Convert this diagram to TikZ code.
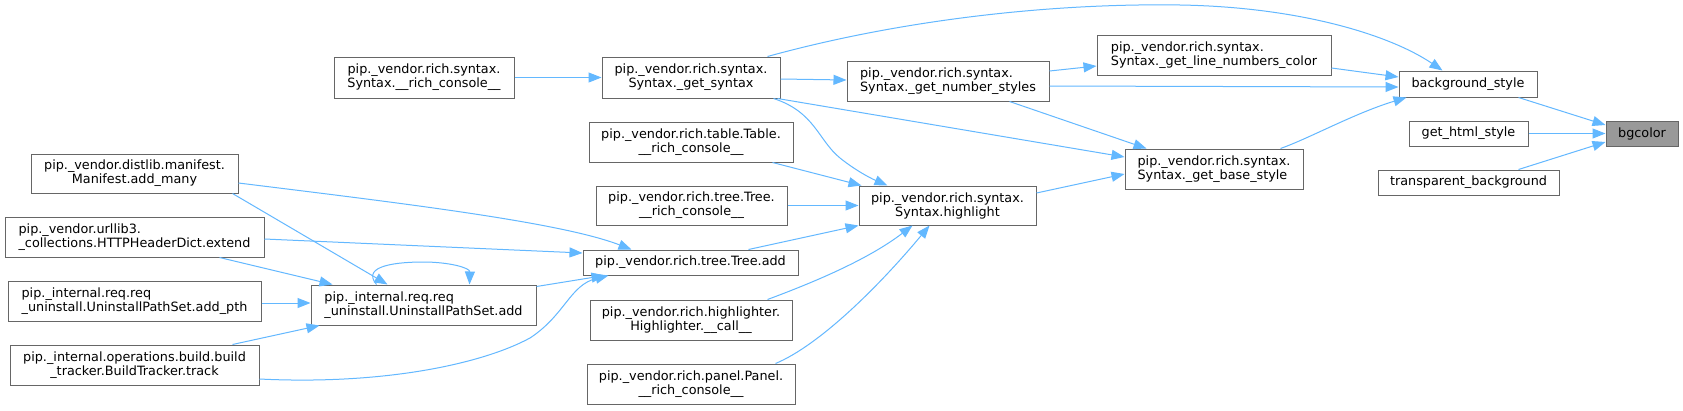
\documentclass[tikz,border=0pt]{standalone}
\usepackage{fontspec}
\setmainfont{DejaVu Sans}
\usetikzlibrary{arrows.meta,calc}
\definecolor{edgec}{HTML}{63B8FF}
\definecolor{nodeb}{HTML}{666666}
\definecolor{nodef}{HTML}{999999}
\begin{document}
\begin{tikzpicture}[x=1pt,y=-1pt,
  nd/.style={draw=nodeb, line width=1pt, fill=white, inner sep=0pt, font=\fontsize{12.8}{14}\selectfont, text=black},
  ndl/.style={nd, align=left},
  ndc/.style={nd, align=center},
  ed/.style={draw=edgec, line width=1pt, -{Triangle[length=13pt,width=10pt]}},
]
\fill[white] (0,0) rectangle (1683,410);
\useasboundingbox (0,0) rectangle (1683,410);

% nodes
\node[ndc, minimum width=180pt, minimum height=41pt] (rc) at (424,77.5) {pip.\_vendor.rich.syntax.\\Syntax.\_\_rich\_console\_\_};
\node[ndc, minimum width=178pt, minimum height=41pt] (gs) at (691,77.5) {pip.\_vendor.rich.syntax.\\Syntax.\_get\_syntax};
\node[ndl, minimum width=202pt, minimum height=40pt] (gn) at (948,81) {pip.\_vendor.rich.syntax.\\Syntax.\_get\_number\_styles};
\node[ndl, minimum width=234pt, minimum height=40pt] (glnc) at (1214,55) {pip.\_vendor.rich.syntax.\\Syntax.\_get\_line\_numbers\_color};
\node[nd, minimum width=138pt, minimum height=26pt] (bs) at (1468,84) {background\_style};
\node[nd, minimum width=119pt, minimum height=25pt] (gh) at (1468.5,133.5) {get\_html\_style};
\node[nd, minimum width=181pt, minimum height=25pt] (tb) at (1468.5,182.5) {transparent\_background};
\node[nd, fill=nodef, minimum width=72pt, minimum height=25pt] (bg) at (1642,133.5) {bgcolor};
\node[ndl, minimum width=178pt, minimum height=40pt] (gb) at (1214,169) {pip.\_vendor.rich.syntax.\\Syntax.\_get\_base\_style};
\node[ndc, minimum width=204pt, minimum height=40pt] (tr) at (691,142) {pip.\_vendor.rich.table.Table.\\\_\_rich\_console\_\_};
\node[ndc, minimum width=191pt, minimum height=39pt] (tc) at (691.5,205.5) {pip.\_vendor.rich.tree.Tree.\\\_\_rich\_console\_\_};
\node[ndc, minimum width=177pt, minimum height=39pt] (hl) at (947.5,205.5) {pip.\_vendor.rich.syntax.\\Syntax.highlight};
\node[nd, minimum width=215pt, minimum height=25pt] (ta) at (690.5,262.5) {pip.\_vendor.rich.tree.Tree.add};
\node[ndc, minimum width=202pt, minimum height=40pt] (hc) at (691,320) {pip.\_vendor.rich.highlighter.\\Highlighter.\_\_call\_\_};
\node[ndc, minimum width=208pt, minimum height=40pt] (pr) at (691,384) {pip.\_vendor.rich.panel.Panel.\\\_\_rich\_console\_\_};
\node[ndc, minimum width=207pt, minimum height=39pt] (am) at (134.5,173.5) {pip.\_vendor.distlib.manifest.\\Manifest.add\_many};
\node[ndl, minimum width=259pt, minimum height=40pt] (ex) at (134.5,237) {pip.\_vendor.urllib3.\\\_collections.HTTPHeaderDict.extend};
\node[ndl, minimum width=253pt, minimum height=40pt] (ap) at (134.5,301) {pip.\_internal.req.req\\\_uninstall.UninstallPathSet.add\_pth};
\node[ndc, minimum width=249pt, minimum height=40pt] (tk) at (134.5,365) {pip.\_internal.operations.build.build\\\_tracker.BuildTracker.track};
\node[ndl, minimum width=225pt, minimum height=40pt] (ua) at (423.5,305) {pip.\_internal.req.req\\\_uninstall.UninstallPathSet.add};

% edges
\draw[ed] ($(bs.south east)+(-19,0)$) -- ($(bg.west)+(0,-8.5)$);
\draw[ed] (gh.east) -- (bg.west);
\draw[ed] ($(tb.north east)+(-41,0)$) -- ($(bg.west)+(0,8.5)$);
\draw[ed] ($(glnc.east)+(0,13)$) -- ($(bs.west)+(0,-7)$);
\draw[ed] ($(gn.east)+(0,5)$) -- ($(bs.west)+(0,3)$);
\draw[ed] ($(gb.north east)+(-23,0)$) .. controls (1310,138) and (1355,113) .. ($(bs.south west)+(8,0)$);
\draw[ed] ($(gs.north east)+(-13,0)$) .. controls (900,20) and (1050,3) .. (1180,5) .. controls (1300,7) and (1390,35) .. ($(bs.north west)+(44,0)$);
\draw[ed] ($(gn.east)+(0,-10)$) -- ($(glnc.west)+(0,11)$);
\draw[ed] ($(gs.east)+(0,1.5)$) -- ($(gn.west)+(0,-1)$);
\draw[ed] ($(gn.south west)+(163,0)$) -- ($(gb.north west)+(22,0)$);
\draw[ed] ($(gs.south east)+(-3,0)$) -- ($(gb.west)+(0,-12)$);
\draw[ed] ($(hl.east)+(0,-12.5)$) -- ($(gb.west)+(0,5)$);
\draw[ed] ($(gs.south east)+(-7,0)$) .. controls (815,112) and (818,140) .. (840,158) .. controls (855,170) and (870,178) .. ($(hl.north west)+(29,0)$);
\draw[ed] ($(tr.south east)+(-21,0)$) -- ($(hl.north west)+(3,0)$);
\draw[ed] (tc.east) -- (hl.west);
\draw[ed] ($(ta.north east)+(-50,0)$) -- (hl.south west);
\draw[ed] ($(hc.north east)+(-25,0)$) .. controls (820,280) and (870,258) .. ($(hl.south west)+(54,0)$);
\draw[ed] ($(pr.north east)+(-20,0)$) .. controls (820,345) and (880,285) .. ($(hl.south west)+(71,0)$);
\draw[ed] (rc.east) -- (gs.west);
\draw[ed] ($(am.east)+(0,9.5)$) .. controls (400,203) and (560,222) .. ($(ta.north west)+(49,0)$);
\draw[ed] ($(ex.east)+(0,2)$) -- ($(ta.west)+(0,-9.5)$);
\draw[ed] ($(ua.north east)+(0,2)$) -- ($(ta.south west)+(22,0)$);
\draw[ed] ($(tk.east)+(0,14)$) .. controls (380,385) and (480,365) .. (530,338) .. controls (565,315) and (570,285) .. ($(ta.south west)+(26,0)$);
\draw[ed] ($(am.south east)+(-6,0)$) -- ($(ua.north west)+(77,0)$);
\draw[ed] ($(ex.south west)+(215,0)$) -- ($(ua.north west)+(22,0)$);
\draw[ed] ($(ap.east)+(0,2)$) -- ($(ua.west)+(0,-2)$);
\draw[ed] ($(tk.north west)+(223,0)$) -- ($(ua.south west)+(9,0)$);
\draw[ed] ($(ua.north west)+(66,0)$) .. controls (360,265) and (400,262) .. (423,262) .. controls (450,262) and (470,268) .. ($(ua.north west)+(159,0)$);
\end{tikzpicture}
\end{document}
